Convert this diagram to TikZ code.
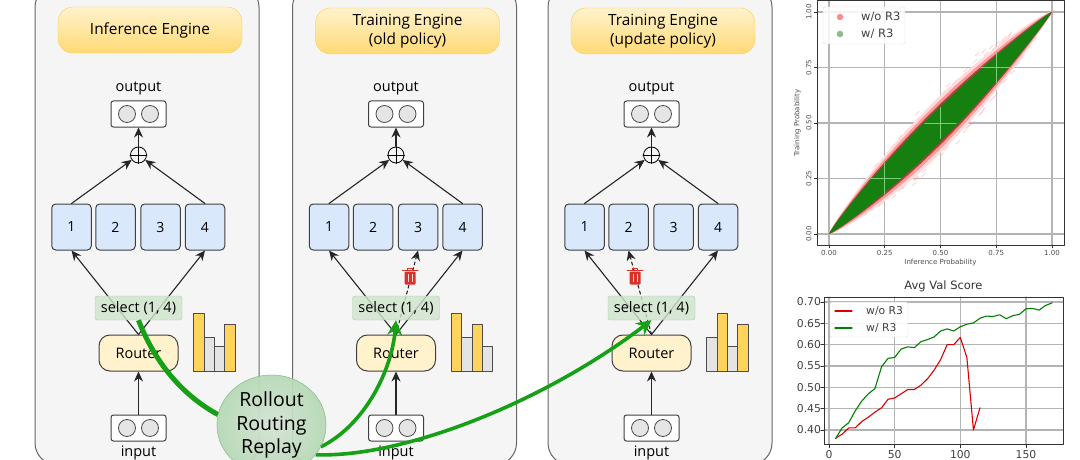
\documentclass[tikz,border=0pt]{standalone}
\usepackage{fontspec}
\setmainfont{Open Sans}
\newfontfamily\plotfont{DejaVu Sans}
\usetikzlibrary{arrows.meta,shapes.geometric}
\definecolor{panelgray}{HTML}{F5F5F5}
\definecolor{boxblue}{HTML}{DAE8FC}
\definecolor{routeryellow}{HTML}{FFF2CC}
\definecolor{baryellow}{HTML}{FFD35C}
\definecolor{bargray}{HTML}{E4E4E4}
\definecolor{replaygreen}{HTML}{16A016}
\definecolor{selectgreen}{HTML}{CFE5CB}
\definecolor{trashred}{HTML}{D9322A}
\definecolor{plotgreen}{HTML}{157F0F}
\definecolor{gridgray}{HTML}{B4B4B4}
\begin{document}
\begin{tikzpicture}[line cap=round,line join=round,>={Stealth[length=10pt,width=9pt]},x=1pt,y=-1pt,
	panel/.style={draw=black!60,fill=panelgray,rounded corners=22pt,line width=1pt,minimum width=224pt,minimum height=480pt},
	titlebox/.style={draw=yellow!50!orange!70,top color=routeryellow,bottom color=baryellow!85,rounded corners=15pt,minimum width=184pt,minimum height=46pt,inner sep=0pt,align=center,font=\fontsize{15.4}{19}\selectfont},
	vecbox/.style={draw=black!75,fill=white,rounded corners=2.5pt,line width=1pt,minimum width=55pt,minimum height=26pt,inner sep=0pt},
	cell/.style={draw=black!70,fill=black!10,circle,minimum size=17pt,inner sep=0pt,line width=.8pt},
	lbl/.style={inner sep=0pt,font=\fontsize{14.5}{16}\selectfont},
	headbox/.style={draw=black!75,fill=boxblue,rounded corners=4pt,line width=1pt,minimum width=39.5pt,minimum height=46pt,inner sep=0pt,font=\fontsize{14}{16}\selectfont},
	oplusnode/.style={draw=black,fill=panelgray,circle,minimum size=16pt,inner sep=0pt,line width=.8pt},
	flow/.style={->,draw=black!85,line width=1.1pt},
	selectbox/.style={draw=green!45!black!35,fill=selectgreen,fill opacity=.8,text opacity=1,rounded corners=2.5pt,minimum width=87pt,minimum height=24pt,inner sep=0pt,font=\fontsize{14.5}{16}\selectfont},
	routerbox/.style={draw=black!75,fill=routeryellow,rounded corners=11pt,line width=1pt,minimum width=79pt,minimum height=36pt,inner sep=0pt,font=\fontsize{14.5}{16}\selectfont},
	ybar/.style={draw=black!70,fill=baryellow,line width=.9pt},
	gbar/.style={draw=black!70,fill=bargray,line width=.9pt},
	replay/.style={draw=replaygreen,line width=3.6pt,line cap=butt},
	replayhead/.style={-{Stealth[length=15pt,width=15pt]}},
	tick/.style={draw=black!80,line width=.6pt},
	griddy/.style={draw=gridgray,line width=1.1pt},
	ticklbl/.style={inner sep=0pt,text=black!70,font=\plotfont\fontsize{7}{8}\selectfont},
	biglbl/.style={inner sep=0pt,text=black!75,font=\plotfont\fontsize{10.8}{12}\selectfont},
	]
	\useasboundingbox (0,0) rectangle (1080,460);
	%three engines
	\foreach \xs/\pp/\ttl/\ty/\bars in {0/a/{Inference Engine}/30/{ybar/313,gbar/337,gbar/346,ybar/324},
		257.5/b/{Training Engine\\(old policy)}/31/{ybar/313,gbar/337,ybar/324,gbar/346},
		513/c/{Training Engine\\(update policy)}/31/{gbar/337,ybar/313,gbar/346,ybar/324}}{
	\begin{scope}[xshift=\xs pt,name prefix=\pp-]
		\node[panel] (panel) at (147,225) {};
		\node[titlebox] (title) at (150,\ty) {\ttl};
		\node[lbl] (outlbl) at (138.5,88) {output};
		\node[vecbox] (outbox) at (138.5,114) {};
		\node[cell] (outa) at (127,114) {};
		\node[cell] (outb) at (150,114) {};
		\node[oplusnode] (sum) at (138.5,155) {};
		\draw[line width=.8pt] (sum.north)--(sum.south);
		\draw[line width=.8pt] (sum.west)--(sum.east);
		\node[headbox] (h1) at (71.5,227) {1};
		\node[headbox] (h2) at (115.5,227) {2};
		\node[headbox] (h3) at (160.5,227) {3};
		\node[headbox] (h4) at (205,227) {4};
		\node[routerbox] (router) at (138.5,353) {Router};
		\node[vecbox] (inbox) at (138.5,428) {};
		\node[cell] (ina) at (127,428) {};
		\node[cell] (inb) at (150,428) {};
		\node[lbl] (inlbl) at (138.5,452.5) {input};
		\draw[flow] (sum)--(outbox);
		\draw[flow] (h1.north)--(sum);
		\draw[flow] (h4.north)--(sum);
		\draw[flow] (inbox)--(router);
		\draw[flow] (router.north)--(h1.south);
		\draw[flow] (router.north)--(h4.south);
		\foreach \barstyle/\bartop [count=\i] in \bars{
			\draw[\barstyle] ({183.6+10.3*\i},371) rectangle ({193.9+10.3*\i},\bartop);
		}
	\end{scope}
	}
	%dropped heads
	\draw[flow,dashed] (b-router.north)--(b-h3.south);
	\draw[flow,dashed] (c-router.north)--(c-h2.south);
	\foreach \pp/\tx in {b/410,c/635}{
		\node[fill=trashred,rounded corners=1pt,minimum width=11pt,minimum height=13pt,inner sep=0pt] (\pp-trash) at (\tx,278) {};
		\draw[trashred,line width=1.6pt] ([xshift=-2pt,yshift=1pt]\pp-trash.north west)--([xshift=2pt,yshift=1pt]\pp-trash.north east);
		\draw[trashred,line width=1pt] ([xshift=-2.5pt,yshift=1pt]\pp-trash.north)--([xshift=-2.5pt,yshift=3pt]\pp-trash.north)--([xshift=2.5pt,yshift=3pt]\pp-trash.north)--([xshift=2.5pt,yshift=1pt]\pp-trash.north);
		\draw[white!80!trashred,line width=.8pt] ([xshift=-2pt,yshift=-3pt]\pp-trash.north)--([xshift=-2pt,yshift=3pt]\pp-trash.south);
		\draw[white!80!trashred,line width=.8pt] ([xshift=2pt,yshift=-3pt]\pp-trash.north)--([xshift=2pt,yshift=3pt]\pp-trash.south);
	}
	\foreach \pp in {a,b,c}{
		\node[selectbox] (\pp-select) at ([yshift=45pt]\pp-router.center) {select (1, 4)};
	}
	%rollout routing replay
	\node[ellipse,draw=green!45!black!45,inner color=green!18!black!12!white,outer color=green!55!black!35!white,opacity=.88,minimum width=109pt,minimum height=100pt,inner sep=0pt] (rrr) at (271.5,425) {};
	\draw[replay,line width=5pt] (rrr.169) .. controls (173,390) and (150,350) .. (a-select.south);
	\draw[replay,replayhead] (rrr.-24) .. controls (365,425) and (392,370) .. (b-select.south);
	\draw[replay,replayhead] (rrr.-34) .. controls (400,458) and (540,405) .. (c-select.south);
	\node[ellipse,draw=green!45!black!45,fill=green!40!black!22!white,fill opacity=.45,minimum width=109pt,minimum height=100pt,inner sep=0pt] (rrrtop) at (271.5,425) {};
	\node[inner sep=0pt,align=center,font=\fontsize{19.5}{23.5}\selectfont] (rrrtext) at (271.5,425) {Rollout\\Routing\\Replay};
	%scatter plot
	\begin{scope}[shift={(829,234)},x=223pt,y=222pt]
		\foreach \gridval in {0,.25,.5,.75,1}{
			\draw[griddy] (\gridval,-.05)--(\gridval,1.05);
			\draw[griddy] (-.054,\gridval)--(1.054,\gridval);
		}
		\pgfmathsetseed{11}
		\foreach \k in {1,...,320}{
			\pgfmathsetmacro\uu{rnd}
			\pgfmathsetmacro\vv{\uu+rand*.17*sin(180*\uu)}
			\draw[red!40!white,opacity=.5,line width=.7pt] (\uu,\vv)--++(.018,.018);
		}
		\foreach \halo/\haloc in {.05/red!14!white,.03/red!40!white,.012/red!60!black!75!white,0/plotgreen}{
			\fill[\haloc] (0,0) -- plot[domain=.005:.995,samples=45,smooth] (\x,{\x+(.09-.03*\x+\halo)*abs(sin(180*\x))^.7}) -- (1,1) -- plot[domain=.995:.005,samples=45,smooth] (\x,{\x-(.085+\halo)*abs(sin(180*\x))^.8}) -- cycle;
		}
		\foreach \gridval in {.25,.5,.75}{
			\draw[griddy,draw=green!30!gridgray,line width=.8pt] (\gridval,\gridval-.07)--(\gridval,\gridval+.07);
			\draw[griddy,draw=green!30!gridgray,line width=.8pt] (\gridval-.07,\gridval)--(\gridval+.07,\gridval);
		}
		\draw[black!80,line width=.9pt] (-.054,-.05) rectangle (1.054,1.05);
		\foreach \tickval [count=\k] in {0.00,0.25,0.50,0.75,1.00}{
			\draw[tick] (\tickval,-.05)--++(0,-.012);
			\draw[tick] (-.054,\tickval)--++(-.012,0);
			\node[ticklbl] (xtick\k) at (\tickval,-.085) {\tickval};
			\node[ticklbl,rotate=90] (ytick\k) at (-.09,\tickval) {\tickval};
		}
		\node[ticklbl] (xname) at (.5,-.13) {Inference Probability};
		\node[ticklbl,rotate=90] (yname) at (-.142,.5) {Training Probability};
	\end{scope}
	\node[draw=black!15,fill=white,fill opacity=.85,rounded corners=1.5pt,minimum width=82pt,minimum height=37pt] (scatterlegend) at (864,25.5) {};
	\node[circle,fill=red!45!white,minimum size=6.5pt,inner sep=0pt] (dotred) at (840,17) {};
	\node[circle,fill=green!40!black!45!white,minimum size=6.5pt,inner sep=0pt] (dotgreen) at (840,34) {};
	\node[biglbl,anchor=west,font=\plotfont\fontsize{11.5}{12}\selectfont] (dotredlbl) at (861,17) {w/o R3};
	\node[biglbl,anchor=west,font=\plotfont\fontsize{11.5}{12}\selectfont] (dotgreenlbl) at (861,34) {w/ R3};
	%val score plot
	\node[inner sep=0pt,text=black!80,font=\plotfont\fontsize{11.5}{14}\selectfont] (scoretitle) at (943.5,286) {Avg Val Score};
	\begin{scope}[shift={(829,600.67)},x=1.313pt,y=426.67pt]
		\foreach \tickval [count=\k] in {0,50,100,150}{
			\draw[griddy] (\tickval,.365)--(\tickval,.7117);
			\draw[tick] (\tickval,.365)--++(0,-.007);
			\node[biglbl] (sxtick\k) at (\tickval,.3435) {\tickval};
		}
		\foreach \tickval [count=\k] in {0.40,0.45,0.50,0.55,0.60,0.65,0.70}{
			\draw[griddy] (-3.8,\tickval)--(178.2,\tickval);
			\draw[tick] (-3.8,\tickval)--++(-2.5,0);
			\node[biglbl,anchor=east] (sytick\k) at (-6,\tickval) {\tickval};
		}
		\draw[red!85!black,line width=1.1pt] plot coordinates {(5,.38)(7,.385)(10,.39)(15,.405)(20,.405)(25,.42)(30,.43)(35,.442)(40,.452)(45,.472)(50,.475)(55,.485)(60,.495)(65,.495)(70,.505)(75,.52)(80,.54)(85,.565)(90,.6)(95,.6)(100,.617)(105,.57)(110,.4)(115,.452)};
		\draw[green!50!black,line width=1.1pt] plot coordinates {(5,.38)(10,.405)(15,.417)(20,.445)(25,.468)(30,.485)(35,.497)(40,.548)(45,.568)(50,.57)(55,.59)(60,.595)(65,.593)(70,.607)(75,.612)(80,.618)(85,.632)(90,.637)(95,.632)(100,.642)(105,.648)(110,.651)(115,.662)(120,.667)(125,.666)(130,.67)(135,.661)(140,.668)(145,.671)(150,.684)(155,.685)(160,.681)(165,.692)(170,.698)};
		\draw[black!80,line width=.9pt] (-3.8,.365) rectangle (178.2,.7117);
	\end{scope}
	\node[draw=black!15,fill=white,fill opacity=.85,rounded corners=1.5pt,minimum width=78pt,minimum height=35pt] (scorelegend) at (869,319.5) {};
	\coordinate (redstart) at (835,311);
	\coordinate (redend) at (852,311);
	\coordinate (greenstart) at (835,328);
	\coordinate (greenend) at (852,328);
	\draw[red!85!black,line width=1.1pt] (redstart)--(redend);
	\draw[green!50!black,line width=1.1pt] (greenstart)--(greenend);
	\node[biglbl,anchor=west] (redlbl) at (866,311) {w/o R3};
	\node[biglbl,anchor=west] (greenlbl) at (866,328) {w/ R3};
\end{tikzpicture}
\end{document}
